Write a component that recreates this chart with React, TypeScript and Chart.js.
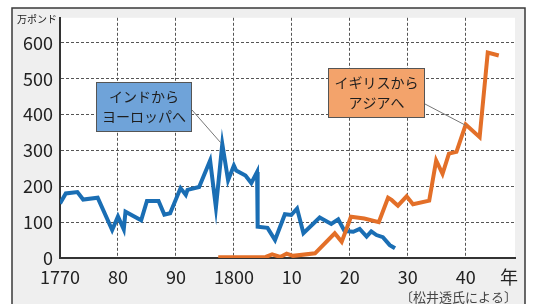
import React, { useEffect, useRef } from 'react';
import { Chart, registerables } from 'chart.js';
Chart.register(...registerables);

// ---- data ----
const blueYears = [1770, 1771, 1773, 1774, 1776.5, 1779, 1780, 1781, 1781.3, 1784, 1785, 1787, 1788, 1789, 1790.8, 1791.7, 1792, 1794, 1795.9, 1796.9, 1798, 1799, 1800, 1800.4, 1802, 1803, 1804, 1804.1, 1805.8, 1807.1, 1808.8, 1809.9, 1810.9, 1812, 1814.8, 1816.8, 1818, 1819.1, 1820.6, 1821.7, 1822.9, 1823.7, 1824.6, 1825.7, 1826.9, 1827.8];
const blueValues = [152, 180, 184, 163, 168, 78, 116, 80, 129, 105, 159, 159, 121, 125, 195, 176, 190, 198, 272, 141, 318, 217, 258, 244, 230, 209, 240, 87, 84, 50, 122, 120, 138, 69, 113, 95, 108, 75, 73, 81, 60, 74, 64, 58, 36, 27];

const orangeYears = [1797.3, 1805.5, 1806.6, 1808, 1809.1, 1810.2, 1814, 1817.4, 1818.6, 1820.2, 1822.5, 1825, 1826.6, 1827.2, 1828.3, 1829.8, 1830.9, 1833.7, 1834.9, 1836, 1837.1, 1838.4, 1840, 1842.4, 1843.8, 1845.7];
const orangeValues = [2, 3, 10, 3, 12, 6, 13, 69, 45, 115, 110, 100, 168, 162, 146, 172, 150, 160, 272, 235, 291, 296, 372, 337, 573, 565];

const xTicks = [1770, 1780, 1790, 1800, 1810, 1820, 1830, 1840];
const xTickLabels = ['1770', '80', '90', '1800', '10', '20', '30', '40'];
const yTicks = [0, 100, 200, 300, 400, 500, 600];

const yUnit = '万ポンド';
const xUnit = '年';
const sourceText = '〔松井透氏による〕';
const blueLabel = ['インドから', 'ヨーロッパへ'];
const orangeLabel = ['イギリスから', 'アジアへ'];
// anchor points (data coords) the callout pointers touch
const blueAnchor = { x: 1797.7, y: 322 };
const orangeAnchor = { x: 1840, y: 370 };

const FONT = '"Noto Sans CJK JP", "Noto Sans", sans-serif';

export default function App() {
  const ref = useRef<HTMLCanvasElement>(null);

  useEffect(() => {
    const canvas = ref.current!;
    const framePlugin = {
      id: 'frame',
      beforeDraw(chart: any) {
        const { ctx, chartArea: a } = chart;
        ctx.save();
        ctx.fillStyle = '#ffffff';
        ctx.fillRect(0, 0, 533, 304);
        ctx.fillStyle = '#efefef';
        ctx.fillRect(12, 8, 513, 300);
        ctx.strokeStyle = '#3a3a3a';
        ctx.lineWidth = 1.5;
        ctx.beginPath();
        ctx.moveTo(12, 310);
        ctx.lineTo(12, 8);
        ctx.lineTo(525, 8);
        ctx.lineTo(525, 310);
        ctx.stroke();
        ctx.fillStyle = '#ffffff';
        ctx.fillRect(a.left, a.top, a.right - a.left, a.bottom - a.top);
        ctx.restore();
      },
      afterDraw(chart: any) {
        const { ctx, scales } = chart;
        const xs = scales.x, ys = scales.y;
        ctx.save();
        // unit labels
        ctx.fillStyle = '#222';
        ctx.font = `10px ${FONT}`;
        ctx.textAlign = 'right';
        ctx.textBaseline = 'middle';
        ctx.fillText(yUnit, 57, 19);
        ctx.font = `18px ${FONT}`;
        ctx.textAlign = 'center';
        ctx.fillText(xUnit, 509, 277);
        ctx.fillStyle = '#444';
        ctx.font = `13px ${FONT}`;
        ctx.textAlign = 'right';
        ctx.fillText(sourceText, 517, 297);

        // pointers
        ctx.strokeStyle = '#777';
        ctx.lineWidth = 1;
        ctx.beginPath();
        ctx.moveTo(192, 110);
        ctx.lineTo(xs.getPixelForValue(blueAnchor.x), ys.getPixelForValue(blueAnchor.y));
        ctx.moveTo(425, 104);
        ctx.lineTo(xs.getPixelForValue(orangeAnchor.x), ys.getPixelForValue(orangeAnchor.y));
        ctx.stroke();

        const box = (x: number, y: number, w: number, h: number, fill: string, lines: string[]) => {
          ctx.fillStyle = fill;
          ctx.fillRect(x, y, w, h);
          ctx.strokeStyle = '#555';
          ctx.lineWidth = 1;
          ctx.strokeRect(x + 0.5, y + 0.5, w - 1, h - 1);
          ctx.fillStyle = '#1e1e1e';
          ctx.font = `14px ${FONT}`;
          ctx.textAlign = 'center';
          ctx.textBaseline = 'middle';
          ctx.fillText(lines[0], x + w / 2, y + h / 2 - 10);
          ctx.fillText(lines[1], x + w / 2, y + h / 2 + 10);
        };
        box(96, 82, 96, 50, '#6fa3d9', blueLabel);
        box(328, 68, 97, 50, '#f3a36b', orangeLabel);
        ctx.restore();
      },
    };

    const chart = new Chart(canvas, {
      type: 'line',
      data: {
        datasets: [
          {
            label: 'インドからヨーロッパへ',
            data: blueYears.map((x, i) => ({ x, y: blueValues[i] })),
            borderColor: '#1a6eb4',
            borderWidth: 4,
            pointRadius: 0,
            tension: 0,
            order: 1,
          },
          {
            label: 'イギリスからアジアへ',
            data: orangeYears.map((x, i) => ({ x, y: orangeValues[i] })),
            borderColor: '#e36f28',
            borderWidth: 4,
            pointRadius: 0,
            tension: 0,
            order: 0,
          },
        ],
      },
      options: {
        responsive: false,
        animation: false,
        layout: { padding: { left: 0, top: 17, right: 18, bottom: 0 } },
        plugins: { legend: { display: false }, tooltip: { enabled: false } },
        scales: {
          x: {
            type: 'linear',
            min: 1770,
            max: 1848.5,
            afterFit: (s: any) => { s.height = 46; },
            afterBuildTicks: (s: any) => { s.ticks = xTicks.map((v) => ({ value: v })); },
            grid: { color: '#555', lineWidth: 1, drawTicks: false },
            border: { display: true, color: '#333', width: 2, dash: [3, 2] },
            ticks: {
              padding: 8,
              color: '#222',
              font: { family: FONT, size: 18 },
              maxRotation: 0,
              autoSkip: false,
              callback: (v: any) => xTickLabels[xTicks.indexOf(Number(v))] ?? '',
            },
          },
          y: {
            type: 'linear',
            min: 0,
            max: 670,
            afterFit: (s: any) => { s.width = 60; },
            afterBuildTicks: (s: any) => { s.ticks = yTicks.map((v) => ({ value: v })); },
            grid: { color: '#555', lineWidth: 1, drawTicks: false },
            border: { display: true, color: '#333', width: 2, dash: [3, 2] },
            ticks: {
              padding: 7,
              color: '#222',
              font: { family: FONT, size: 18 },
              callback: (v: any) => String(v),
            },
          },
        },
      },
      plugins: [framePlugin],
    });
    return () => chart.destroy();
  }, []);

  return (
    <div style={{ position: 'fixed', left: 0, top: 0, width: 533, height: 304 }}>
      <canvas ref={ref} width={533} height={304} style={{ display: 'block' }} />
    </div>
  );
}
